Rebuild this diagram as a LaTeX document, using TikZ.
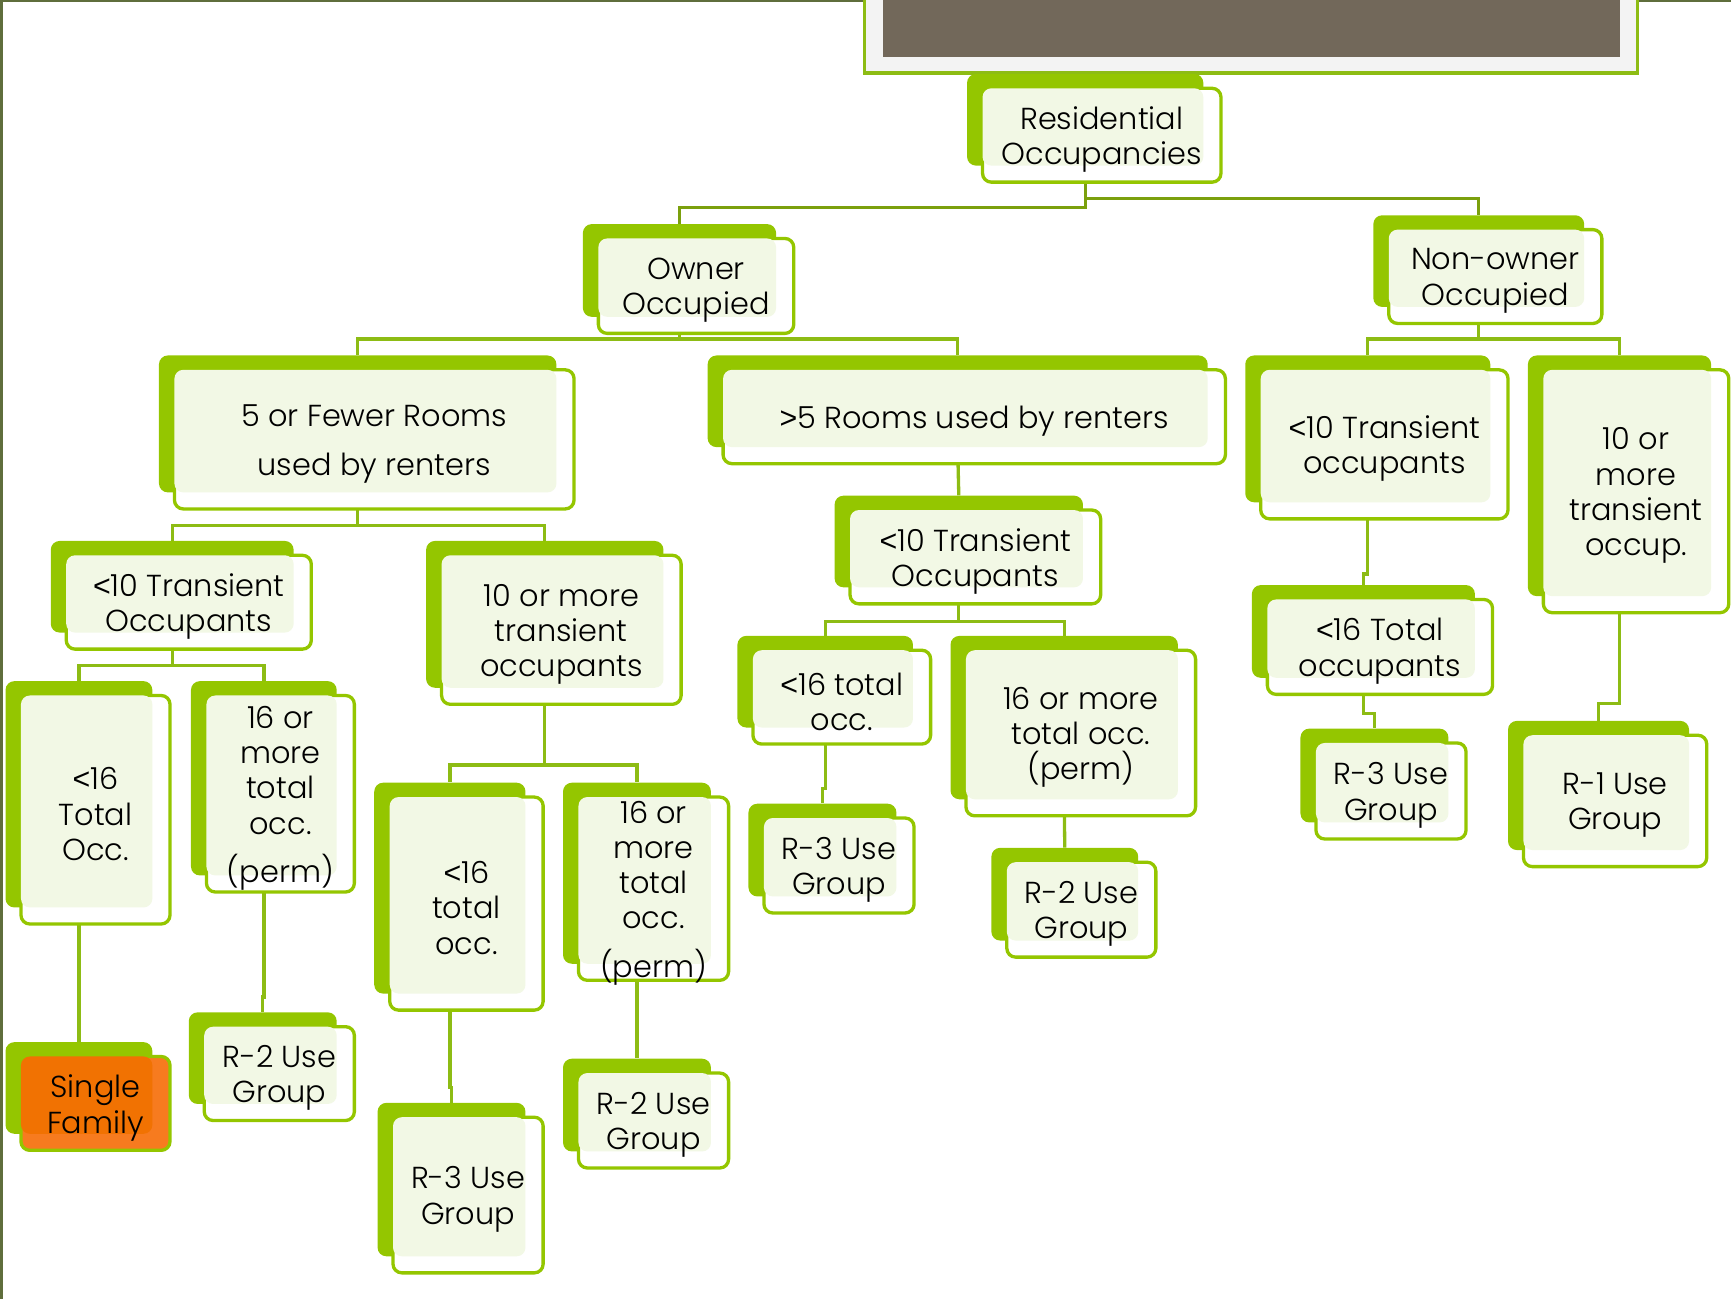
\documentclass[tikz,border=0pt]{standalone}
\usepackage{fontspec}
\setmainfont{Poppins}[UprightFont=* Light]
\newfontfamily\symfont{Liberation Sans}
\newcommand\lessthan{{\symfont<}}
\newcommand\morethan{{\symfont>}}
\usetikzlibrary{fit,backgrounds}
\definecolor{gback}{HTML}{94C600}
\definecolor{glight}{HTML}{F2F8E5}
\definecolor{gline}{HTML}{8DBC14}
\definecolor{gdark}{HTML}{7BA00D}
\definecolor{titlebrown}{HTML}{72685A}
\definecolor{titlegrey}{HTML}{F3F3F3}
\definecolor{frameline}{HTML}{5F6E3C}
\definecolor{sforange}{HTML}{F77B1F}
\definecolor{sfdark}{HTML}{F17202}
\tikzset{
  backrect/.style={fill=gback, rounded corners=8pt},
  frontbox/.style={draw=gback, line width=3pt, fill=white, rounded corners=8pt},
  lightbox/.style={fill=glight, rounded corners=8pt},
  txt/.style={font=\fontsize{27.5}{32}\selectfont, align=center, text=black, inner sep=0pt, yshift=-4pt},
  conn/.style={draw=gline, line width=3pt},
  conndark/.style={draw=gdark, line width=3pt},
}
\newcommand\gbox[7][]{%
  \fill[backrect] (#3,#4) rectangle (#5,#6);
  \node[inner sep=0pt, fit={(#3,#4)(#5,#6)}] (#2) {};
  \draw[frontbox] ({#3+14},{#4+13}) rectangle ({#5+16},{#6+15});
  \fill[lightbox] ({#3+14},{#4+13}) rectangle (#5,#6);
  \node[txt,#1] (#2-t) at ({(#3+#5)/2+15},{(#4+#6)/2+14}) {#7};
}
\begin{document}
\begin{tikzpicture}[x=1pt,y=-1pt]
\useasboundingbox (0,0) rectangle (1568,1177);
% frame
\draw[frameline, line width=3pt] (1.5,0) -- (1.5,1177);
\draw[frameline, line width=2pt] (0,1) -- (1568,1);
% title bar
\draw[draw=gline, line width=3pt, fill=titlegrey] (783,-5) rectangle (1483,66);
\fill[titlebrown] (800,-5) rectangle (1467,52);

% boxes
\gbox{res}{876}{67}{1090}{150}{Residential\\Occupancies}
\gbox{own}{528}{203}{703}{287}{Owner\\Occupied}
\gbox{non}{1244}{195}{1435}{278}{Non-owner\\Occupied}
\gbox{five}{144}{322}{504}{446}{5 or Fewer Rooms\\[12pt]used by renters}
\gbox{gtfive}{641}{322}{1094}{405}{\morethan5 Rooms used by renters}
\gbox{ntten}{1128}{322}{1350}{455}{\lessthan10 Transient\\occupants}
\gbox{nttenm}{1384}{322}{1550}{540}{10 or\\more\\transient\\occup.}
\gbox{ltta}{46}{490}{266}{573}{\lessthan10 Transient\\Occupants}
\gbox{ten}{386}{490}{601}{623}{10 or more\\transient\\occupants}
\gbox{lttb}{756}{449}{981}{532}{\lessthan10 Transient\\Occupants}
\gbox{ltsa}{5}{617}{138}{822}{\lessthan16\\Total\\Occ.}
\gbox{psa}{173}{617}{305}{793}{16 or\\more\\total\\occ.\\[12pt](perm)}
\gbox{ltsb}{339}{709}{476}{900}{\lessthan16\\total\\occ.}
\gbox{psb}{510}{709}{644}{873}{16 or\\more\\total\\occ.\\[12pt](perm)}
\gbox{ltsc}{668}{576}{827}{659}{\lessthan16 total\\occ.}
\gbox{psc}{861}{576}{1067}{724}{16 or more\\total occ.\\(perm)}
\gbox{ltsd}{1134}{530}{1336}{614}{\lessthan16 Total\\occupants}
\gbox{rtd}{1178}{660}{1312}{745}{R-3 Use\\Group}
\gbox{rone}{1366}{653}{1530}{770}{R-1 Use\\Group}
\begin{scope}[frontbox/.append style={fill=sforange}, lightbox/.style={fill=sfdark, rounded corners=8pt}]
\gbox{sf}{5}{944}{138}{1027}{Single\\Family}
\end{scope}
\gbox{rta}{171}{917}{305}{1000}{R-2 Use\\Group}
\gbox{rtb}{342}{999}{476}{1138}{R-3 Use\\Group}
\gbox{rtwb}{510}{959}{644}{1043}{R-2 Use\\Group}
\gbox{rtc}{678}{728}{812}{812}{R-3 Use\\Group}
\gbox{rtwc}{898}{768}{1031}{852}{R-2 Use\\Group}

% connectors
\begin{scope}[on background layer]
\draw[conndark] (res.south) -- (res.south |- 0,188) -| (own.north);
\draw[conndark] (res.south) -- (res.south |- 0,180) -| (non.north);
\draw[conn] (own.south) -- (own.south |- 0,307) -| (five.north);
\draw[conn] (own.south |- 0,307) -| (gtfive.north);
\draw[conn] (non.south) -- (non.south |- 0,307) -| (ntten.north);
\draw[conn] (non.south |- 0,307) -| (nttenm.north);
\draw[conn] (five.south) -- (five.south |- 0,476) -| (ltta.north);
\draw[conn] (five.south |- 0,476) -| (ten.north);
\draw[conn] (gtfive.south) -- (lttb.north);
\draw[conn] (ntten.south) -- (ntten.south |- 0,520) -| (ltsd.north);
\draw[conn] (nttenm.south) -- (nttenm.south |- 0,637) -| (rone.north);
\draw[conn] (ltta.south) -- (ltta.south |- 0,603) -| (ltsa.north);
\draw[conn] (ltta.south |- 0,603) -| (psa.north);
\draw[conn] (ten.south) -- (ten.south |- 0,693) -| (ltsb.north);
\draw[conn] (ten.south |- 0,693) -| (psb.north);
\draw[conn] (lttb.south) -- (lttb.south |- 0,563) -| (ltsc.north);
\draw[conn] (lttb.south |- 0,563) -| (psc.north);
\draw[conn] (ltsa.south) -- (ltsa.south |- 0,930) -| (sf.north);
\draw[conn] (psa.south) -- (psa.south |- 0,903) -| (rta.north);
\draw[conn] (ltsb.south) -- (ltsb.south |- 0,985) -| (rtb.north);
\draw[conn] (psb.south) -- (rtwb.north);
\draw[conn] (ltsc.south) -- (ltsc.south |- 0,714) -| (rtc.north);
\draw[conn] (psc.south) -- (rtwc.north);
\draw[conn] (ltsd.south) -- (ltsd.south |- 0,646) -| (rtd.north);
\end{scope}
\end{tikzpicture}
\end{document}
